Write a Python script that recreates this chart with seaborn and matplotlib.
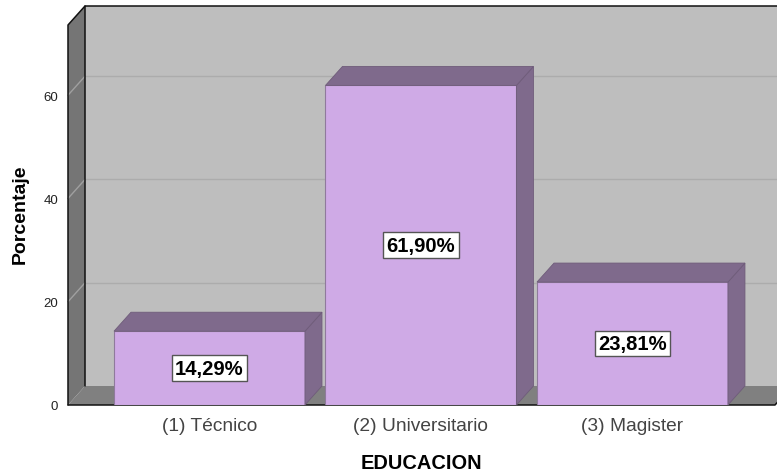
import matplotlib.pyplot as plt
import pandas as pd
import seaborn as sns

categories = ["(1) Técnico", "(2) Universitario", "(3) Magister"]
percentages = [14.29, 61.90, 23.81]
value_labels = ["14,29%", "61,90%", "23,81%"]
y_ticks = [0, 20, 40, 60]

df = pd.DataFrame({"educacion": categories, "porcentaje": percentages})

# fake 3d depth, in data units
depth_x = 0.0804
depth_y = 3.68
xmin, xmax = -0.669, 2.674
ymax = 73.6

sns.set_theme(style="white")
plt.rcParams["font.family"] = ["Liberation Sans", "DejaVu Sans"]

fig = plt.figure(figsize=(7.77, 4.77), dpi=100)
ax = fig.add_axes([68 / 777, 1 - 406 / 477, (775 - 68) / 777, (406 - 26) / 477])

sns.barplot(
    x="educacion",
    y="porcentaje",
    data=df,
    color="#cfaae6",
    saturation=1,
    width=0.903,
    edgecolor="#8f7a9c",
    linewidth=0.8,
    zorder=5,
    ax=ax,
)
ax.set_xlim(xmin, xmax)
ax.set_ylim(0, ymax)


def face(xs, ys, color, zorder, edge="none", lw=0):
    ax.fill(xs, ys, facecolor=color, edgecolor=edge, linewidth=lw, zorder=zorder, clip_on=False)


# back wall, floor, left wall
face(
    [xmin + depth_x, xmax + 1, xmax + 1, xmin + depth_x],
    [depth_y, depth_y, ymax + depth_y, ymax + depth_y],
    "#bebebe",
    1,
)
face(
    [xmin, xmax, xmax + depth_x, xmin + depth_x],
    [0, 0, depth_y, depth_y],
    "#808080",
    2,
)
face(
    [xmin, xmin + depth_x, xmin + depth_x, xmin],
    [0, depth_y, ymax + depth_y, ymax],
    "#757575",
    2,
)

# gridlines
for t in y_ticks[1:]:
    ax.plot([xmin + depth_x, xmax + 1], [t + depth_y, t + depth_y], color="#acacac", lw=1, zorder=3, clip_on=False)
    ax.plot([xmin, xmin + depth_x], [t, t + depth_y], color="#a0a0a0", lw=1, zorder=3, clip_on=False)

# frame lines
ax.plot(
    [xmin, xmin, xmin + depth_x, xmax + 1],
    [0, ymax, ymax + depth_y, ymax + depth_y],
    color="#111111",
    lw=1.1,
    zorder=4,
    clip_on=False,
)
ax.plot(
    [xmin + depth_x, xmin + depth_x],
    [depth_y, ymax + depth_y],
    color="#111111",
    lw=1.1,
    zorder=4,
    clip_on=False,
)
ax.plot([xmin, xmax, xmax + depth_x], [0, 0, depth_y], color="#111111", lw=1.1, zorder=4, clip_on=False)

# bar sides and tops
for bar, label in zip(ax.patches, value_labels):
    x0 = bar.get_x()
    x1 = x0 + bar.get_width()
    h = bar.get_height()
    face(
        [x1, x1 + depth_x, x1 + depth_x, x1],
        [0, depth_y, h + depth_y, h],
        "#7f6a8c",
        5,
        "#6f5c7a",
        0.6,
    )
    face(
        [x0, x1, x1 + depth_x, x0 + depth_x],
        [h, h, h + depth_y, h + depth_y],
        "#7f6a8c",
        5,
        "#6f5c7a",
        0.6,
    )
    ax.text(
        (x0 + x1) / 2,
        h / 2,
        label,
        ha="center",
        va="center",
        fontsize=14.6,
        fontweight="bold",
        color="black",
        zorder=7,
        bbox=dict(boxstyle="square,pad=0.17", facecolor="white", edgecolor="#555555", linewidth=1),
    )

sns.despine(ax=ax, left=True, bottom=True)
ax.set_yticks(y_ticks)
ax.tick_params(axis="y", length=0, pad=7, labelsize=9.5, labelcolor="#222222")
ax.tick_params(axis="x", length=0, pad=9, labelsize=13.8, labelcolor="#444444")
ax.set_xlabel("EDUCACION", fontsize=14.4, fontweight="bold", color="black", labelpad=16)
ax.set_ylabel("Porcentaje", fontsize=14, fontweight="bold", color="black", labelpad=0)
ax.yaxis.set_label_coords((20 - 68) / (775 - 68), (406 - 214) / (406 - 26))
ax.xaxis.set_label_coords((421 - 68) / (775 - 68), -(464 - 406) / (406 - 26))
ax.xaxis.label.set_va("center")
ax.yaxis.label.set_va("center")

plt.savefig("out.png", dpi=100)
